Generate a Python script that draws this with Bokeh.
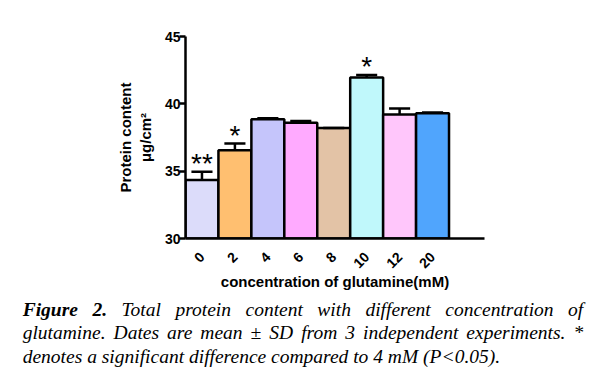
import numpy as np
from bokeh.plotting import figure
from bokeh.layouts import column
from bokeh.models import Range1d, FixedTicker, LinearAxis, ColumnDataSource, Div
from bokeh.core.properties import value
from bokeh.embed import file_html
from bokeh.resources import INLINE

# ---- data ----
categories = ["0", "2", "4", "6", "8", "10", "12", "20"]
means = [34.35, 36.55, 38.85, 38.6, 38.2, 41.95, 39.2, 39.3]
sds = [0.6, 0.5, 0.08, 0.12, 0.0, 0.2, 0.45, 0.05]
signif = ["**", "*", "", "", "", "*", "", ""]
colors = ["#dcdcfa", "#ffbf70", "#c5c5fb", "#ffaaff", "#e3c3a6", "#c0f8fb", "#ffc6fb", "#50a5fd"]
y_ticks = [30, 35, 40, 45]

# ---- layout (page pixel geometry) ----
W = 586
H1 = 296
FL, FT, FW, FH = 185, 36, 299, 202
XE = FW / 32.94
Y0, Y1 = 30, 45

p = figure(width=W, height=H1, output_backend="svg", toolbar_location=None,
           x_range=Range1d(0, XE), y_range=Range1d(Y0, Y1),
           min_border_left=FL, min_border_top=FT,
           min_border_right=W - FL - FW, min_border_bottom=H1 - FT - FH)
p.outline_line_color = None
p.grid.visible = False
p.background_fill_color = "white"
p.border_fill_color = "white"

x = np.arange(len(categories)) + 0.5
top = np.array(means)
err = np.array(sds)
src = ColumnDataSource(dict(x=x, top=top, color=colors, up=top + err,
                            x0=x - 0.32, x1=x + 0.32, sig=signif))

p.vbar(x="x", width=1.0, top="top", bottom=Y0, fill_color="color",
       line_color="black", line_width=2.5, source=src)
p.segment(x0="x", y0="top", x1="x", y1="up", line_color="black", line_width=2.5, source=src)
p.segment(x0="x0", y0="up", x1="x1", y1="up", line_color="black", line_width=2.5, source=src)
p.text(x="x", y="up", text="sig", text_align="center", text_baseline="alphabetic",
       y_offset=-8, text_font=value("Liberation Sans"), text_font_size="28px",
       text_color="black", source=src)

label_font = "Liberation Sans"

# y axis
ya = p.yaxis[0]
ya.ticker = FixedTicker(ticks=y_ticks)
ya.axis_line_width = 2.5
ya.major_tick_line_width = 2.5
ya.major_tick_out = 6
ya.major_tick_in = 0
ya.minor_tick_line_color = None
ya.major_label_standoff = -1
ya.major_label_text_font = label_font
ya.major_label_text_font_style = "bold"
ya.major_label_text_font_size = "14px"
ya.major_label_text_color = "black"
ya.axis_label = "μg/cm²"
ya.axis_label_standoff = 8
ya.axis_label_text_font = label_font
ya.axis_label_text_font_style = "bold"
ya.axis_label_text_font_size = "15px"
ya.axis_label_text_color = "black"

ya2 = LinearAxis(ticker=FixedTicker(ticks=[]), axis_line_color=None,
                 major_tick_line_color=None, minor_tick_line_color=None,
                 axis_label="Protein content", axis_label_standoff=0,
                 axis_label_text_font=label_font, axis_label_text_font_style="bold",
                 axis_label_text_font_size="15px", axis_label_text_color="black")
p.add_layout(ya2, "left")

# x axis
xa = p.xaxis[0]
xa.ticker = FixedTicker(ticks=list(x))
xa.major_label_overrides = {float(v): c for v, c in zip(x, categories)}
xa.axis_line_width = 2.5
xa.major_tick_line_color = None
xa.minor_tick_line_color = None
xa.major_label_orientation = np.pi / 4
xa.major_label_standoff = 10
xa.major_label_text_font = label_font
xa.major_label_text_font_style = "bold"
xa.major_label_text_font_size = "14px"
xa.major_label_text_color = "black"
xa.axis_label = "concentration of glutamine(mM)"
xa.axis_label_standoff = -3
xa.axis_label_text_font = label_font
xa.axis_label_text_font_style = "bold"
xa.axis_label_text_font_size = "15px"
xa.axis_label_text_color = "black"

# ---- caption: two justified lines and a final left-aligned line ----
cap_lines = [
    ('<b>Figure 2.</b> Total protein content with different concentration of', True),
    ('glutamine. Dates are mean ± SD from 3 independent experiments. *', True),
    ('denotes a significant difference compared to 4 mM (P&lt;0.05).', False),
]
FS = 19.5
LH = 23.5
base0 = 316.0
asc = (LH - 1.107 * FS) / 2 + 0.891 * FS
H2 = 379 - H1 - 4
blocks = []
for i, (txt, just) in enumerate(cap_lines):
    topy = base0 + i * LH - asc - H1
    align = "justify" if just else "left"
    blocks.append(
        f'<div style="position:absolute;left:22.7px;top:{topy:.1f}px;width:560.5px;'
        f'text-align:{align};text-align-last:{align};white-space:nowrap;'
        f'height:{LH}px;line-height:{LH}px">{txt}</div>'
        if not just else
        f'<div style="position:absolute;left:22.7px;top:{topy:.1f}px;width:560.5px;'
        f'text-align:justify;text-align-last:justify;'
        f'height:{LH}px;line-height:{LH}px">{txt}</div>')
html = ('<div style="position:relative;width:%dpx;height:%dpx;'
        'font-family:\'Liberation Serif\';font-style:italic;font-size:%spx;'
        'color:black">%s</div>') % (W, H2, FS, "".join(blocks))
cap = Div(text=html, width=W, height=H2, margin=0)

layout = column(p, cap, spacing=0)
open("out.html", "w").write(file_html(layout, INLINE))
